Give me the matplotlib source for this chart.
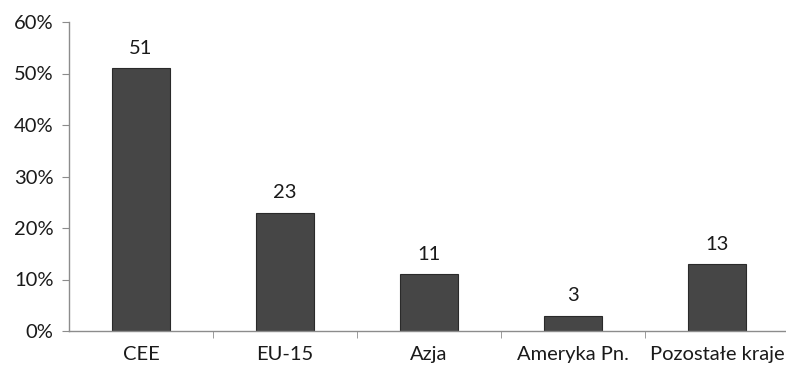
import matplotlib
matplotlib.use("Agg")
import matplotlib.pyplot as plt
from matplotlib.ticker import FixedLocator, PercentFormatter

categories = ["CEE", "EU-15", "Azja", "Ameryka Pn.", "Pozostałe kraje"]
values = [51, 23, 11, 3, 13]
y_ticks = [0, 10, 20, 30, 40, 50, 60]

plt.rcParams["font.family"] = ["Lato", "DejaVu Sans"]
FS = 14.5

fig = plt.figure(figsize=(7.86, 3.69), dpi=100)
ax = fig.add_axes([69 / 786, 1 - 331 / 369, 1 - 69 / 786 + 0.004, (331 - 22) / 369])

x = list(range(len(categories)))
ax.bar(x, values, width=0.4, color="#464646", edgecolor="#2a2a2a", linewidth=0.8, zorder=2)

for xi, v in zip(x, values):
    ax.annotate(str(v), (xi, v), xytext=(0, 8), textcoords="offset points",
                ha="center", va="bottom", fontsize=FS, color="#1a1a1a")

ax.set_xlim(-0.5, len(categories) - 0.5)
ax.set_ylim(0, 60)
ax.set_yticks(y_ticks)
ax.yaxis.set_major_formatter(PercentFormatter(decimals=0))

ax.set_xticks(x)
ax.set_xticklabels(categories)
ax.xaxis.set_minor_locator(FixedLocator([i + 0.5 for i in range(len(categories) - 1)]))

for side in ("top", "right"):
    ax.spines[side].set_visible(False)
for side in ("left", "bottom"):
    ax.spines[side].set_color("#8c8c8c")
    ax.spines[side].set_linewidth(1.0)

ax.tick_params(axis="y", length=5, color="#8c8c8c", labelsize=FS, pad=6, labelcolor="#1a1a1a")
ax.tick_params(axis="x", which="major", length=0, labelsize=FS, pad=11, labelcolor="#1a1a1a")
ax.tick_params(axis="x", which="minor", length=5, color="#8c8c8c")

fig.savefig("out.png", dpi=100)
